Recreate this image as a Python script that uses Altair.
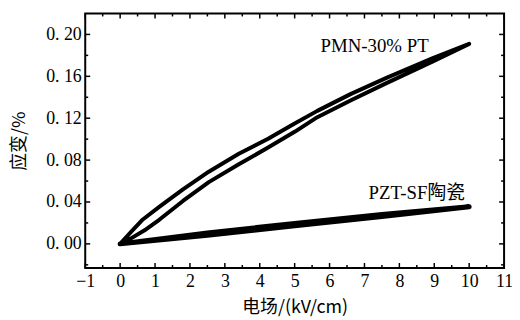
import altair as alt
import pandas as pd

# ---- data ----
pmn_up_x = [0, 0.3, 0.7, 1.12, 1.8, 2.54, 3.4, 4.24, 5.0, 5.65, 6.6, 7.63, 8.96, 10]
pmn_up_y = [0, 0.005, 0.013, 0.023, 0.041, 0.059, 0.076, 0.092, 0.107, 0.121, 0.137, 0.1535, 0.1742, 0.191]
pmn_down_x = [10, 8.96, 7.63, 6.6, 5.65, 5.0, 4.24, 3.4, 2.54, 1.8, 1.12, 0.65, 0.3, 0]
pmn_down_y = [0.191, 0.1774, 0.1585, 0.143, 0.127, 0.115, 0.1004, 0.086, 0.0689, 0.052, 0.0353, 0.0233, 0.011, 0]

pzt_up_x = [0, 2.5, 5.0, 7.5, 10]
pzt_up_y = [0, 0.0083, 0.0172, 0.0262, 0.0355]
pzt_down_x = [10, 7.5, 5.0, 2.5, 0]
pzt_down_y = [0.0358, 0.0282, 0.0195, 0.0105, 0]

label_text = ["PMN-30% PT", "PZT-SF陶瓷"]
label_x = [7.29, 8.50]
label_y = [0.1893, 0.0488]

x_major = list(range(-1, 12))
x_minor = [v + 0.5 for v in range(-1, 11)]
y_major = [0.0, 0.04, 0.08, 0.12, 0.16, 0.20]
y_minor = [-0.02, 0.02, 0.06, 0.10, 0.14, 0.18]

X_DOMAIN = [-1, 11]
Y_DOMAIN = [-0.023, 0.22]
W, H = 423, 257

# ---- tables ----
rows = []
for name, xs, ys in [("PMN", pmn_up_x + pmn_down_x[1:], pmn_up_y + pmn_down_y[1:]),
                     ("PZT", pzt_up_x + pzt_down_x[1:], pzt_up_y + pzt_down_y[1:])]:
    for i, (a, b) in enumerate(zip(xs, ys)):
        rows.append({"series": name, "x": a, "y": b, "i": i})
curves = pd.DataFrame(rows)
labels = pd.DataFrame({"x": label_x, "y": label_y, "t": label_text})

FONT = "Liberation Serif, Noto Sans CJK SC"
CJK = "Noto Sans CJK SC"

xscale = alt.Scale(domain=X_DOMAIN, nice=False, zero=False)
yscale = alt.Scale(domain=Y_DOMAIN, nice=False, zero=False)
xaxis = alt.Axis(values=x_major, format="d", ticks=False, domain=False, grid=False,
                 labelFlush=False, labelOverlap=False,
                 labelFont=FONT, labelFontSize=18, labelColor="black", labelPadding=5,
                 title="电场/(kV/cm)", titleFont=CJK, titleFontSize=18,
                 titleFontWeight="normal", titleColor="black",
                 titleY=40, titleBaseline="middle")
yaxis = alt.Axis(values=y_major, ticks=False, domain=False, grid=False,
                 labelFlush=False, labelOverlap=False,
                 labelExpr="replace(format(datum.value, '.2f'), '.', '. ')",
                 labelFont=FONT, labelFontSize=18, labelColor="black", labelPadding=4,
                 title="应变/%", titleFont=CJK, titleFontSize=18,
                 titleFontWeight="normal", titleColor="black",
                 titleX=-66, titleY=H / 2, titleBaseline="middle", titleAlign="center")

X = alt.X("x:Q", scale=xscale, axis=xaxis)
Y = alt.Y("y:Q", scale=yscale, axis=yaxis)

pmn = alt.Chart(curves[curves.series == "PMN"]).mark_line(
    color="black", strokeWidth=4, strokeJoin="round", strokeCap="round"
).encode(x=X, y=Y, order="i:Q")

pzt = alt.Chart(curves[curves.series == "PZT"]).mark_line(
    color="black", strokeWidth=5, strokeJoin="round", strokeCap="round"
).encode(x=X, y=Y, order="i:Q")

text = alt.Chart(labels).mark_text(
    font=FONT, fontSize=19, color="black", align="center", baseline="middle"
).encode(x=X, y=Y, text="t:N")


def xticks(vals, length):
    d = pd.DataFrame({"x": vals})
    bot = alt.Chart(d).mark_rule(color="black", strokeWidth=1.5).encode(
        x=X, y=alt.value(H), y2=alt.value(H - length))
    top = alt.Chart(d).mark_rule(color="black", strokeWidth=1.5).encode(
        x=X, y=alt.value(0), y2=alt.value(length))
    return [bot, top]


def yticks(vals, length):
    d = pd.DataFrame({"y": vals})
    left = alt.Chart(d).mark_rule(color="black", strokeWidth=1.5).encode(
        y=Y, x=alt.value(0), x2=alt.value(length))
    right = alt.Chart(d).mark_rule(color="black", strokeWidth=1.5).encode(
        y=Y, x=alt.value(W), x2=alt.value(W - length))
    return [left, right]


layers = [pmn, pzt, text] + xticks(x_major, 5) + xticks(x_minor, 3) + yticks(y_major, 5) + yticks(y_minor, 3)

chart = alt.layer(*layers).properties(
    width=W, height=H,
    autosize=alt.AutoSizeParams(type="none"),
    padding={"left": 78, "top": 4, "right": 8, "bottom": 50},
    background="white",
).configure_view(stroke="black", strokeWidth=2)

chart.save("out.html", embed_options={"renderer": "svg", "actions": False})
